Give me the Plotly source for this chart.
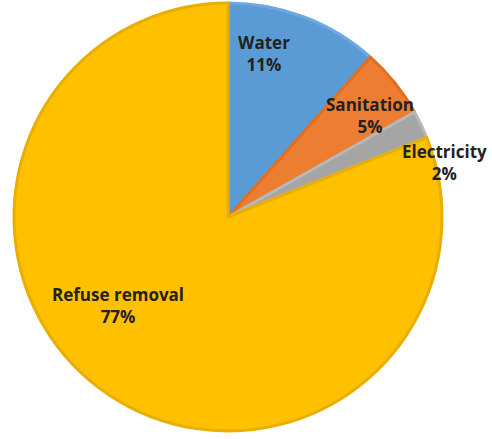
import plotly.graph_objects as go

categories = ["Water", "Sanitation", "Electricity", "Refuse removal"]
values = [11, 5, 2, 77]

colors = ["#5B9BD5", "#ED7D31", "#A5A5A5", "#FFC000"]
edge_colors = ["#6FA8DC", "#E07020", "#B8B8B8", "#E8AE00"]

W, H = 492, 439
# label centres (pixels from top-left)
label_px = [(264, 54), (370, 116), (444, 163), (118, 305)]

fig = go.Figure(go.Pie(
    labels=categories,
    values=values,
    sort=False,
    direction="clockwise",
    rotation=0,
    textinfo="none",
    hoverinfo="label+percent",
    marker=dict(colors=colors, line=dict(color=edge_colors, width=3)),
    domain=dict(x=[14 / W, 442 / W], y=[(H - 432) / H, (H - 2) / H]),
    showlegend=False,
))

annotations = []
for cat, val, (px, py) in zip(categories, values, label_px):
    annotations.append(dict(
        x=px / W, y=1 - py / H, xref="paper", yref="paper",
        xanchor="center", yanchor="middle",
        text=f"<b>{cat}</b><br><b>{val}%</b>",
        showarrow=False, align="center",
        font=dict(family="Open Sans", size=17, color="#222222"),
    ))

fig.update_layout(
    width=W, height=H,
    margin=dict(l=0, r=0, t=0, b=0),
    paper_bgcolor="white",
    plot_bgcolor="white",
    annotations=annotations,
)

fig.write_html("out.html", config={"displayModeBar": False},
               post_script="document.body.style.margin='0';")
